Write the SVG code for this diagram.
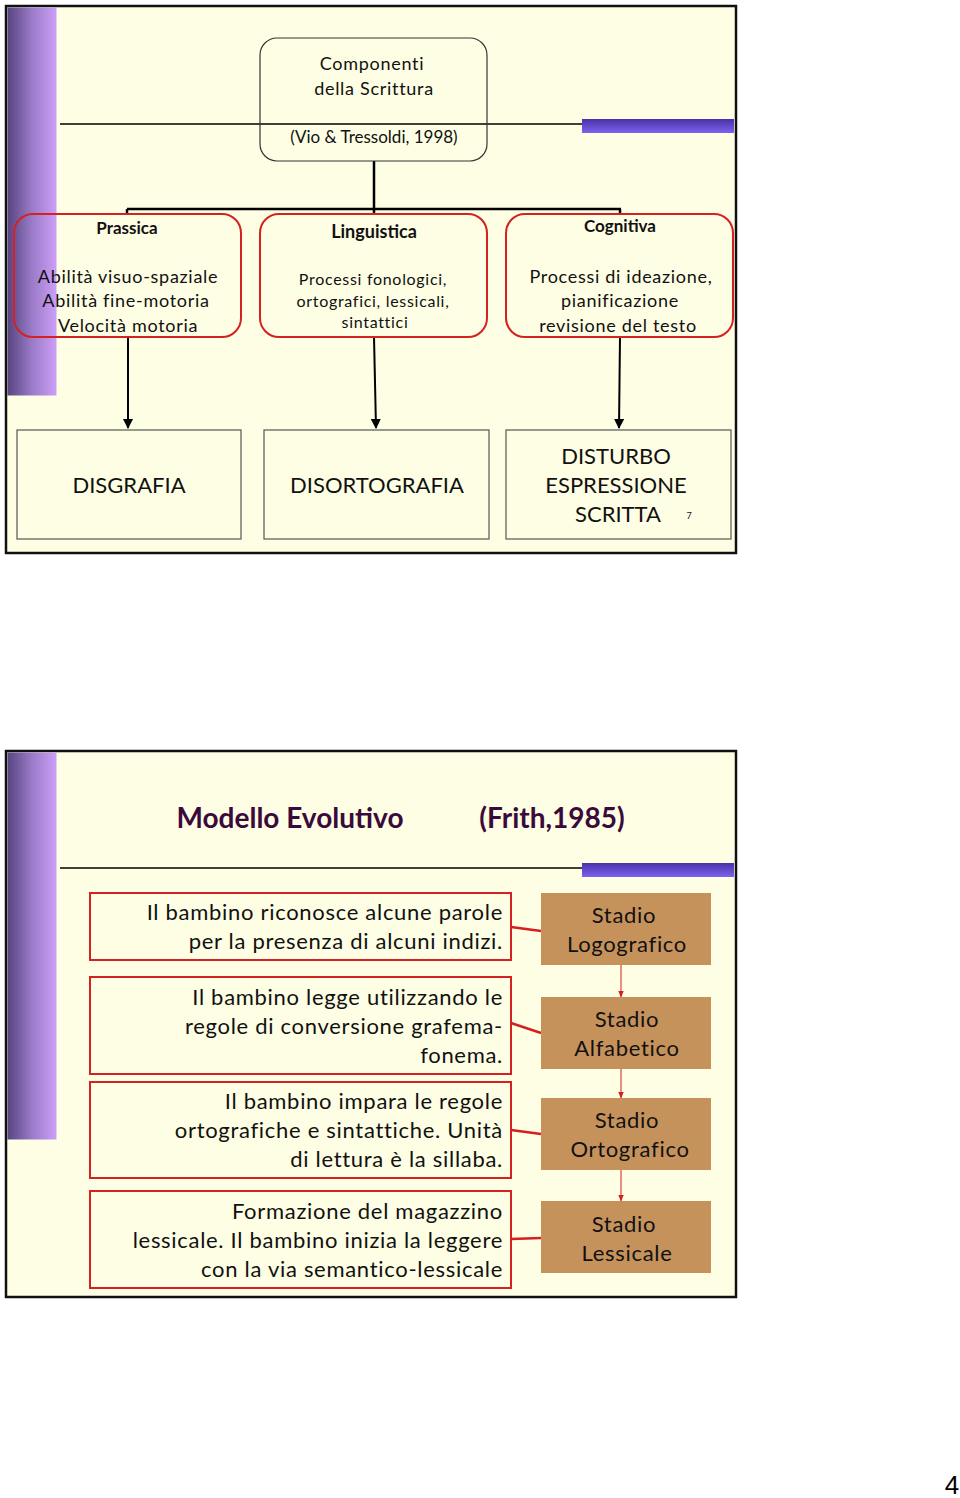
<svg xmlns="http://www.w3.org/2000/svg" width="960" height="1498" viewBox="0 0 960 1498">
<defs>
<linearGradient id="sideBar" x1="0" y1="0" x2="1" y2="0">
<stop offset="0" stop-color="#574580"/>
<stop offset="0.5" stop-color="#9a7bc8"/>
<stop offset="1" stop-color="#cc9ff8"/>
</linearGradient>
<linearGradient id="topBar" x1="0" y1="0" x2="0" y2="1">
<stop offset="0" stop-color="#4a30a8"/>
<stop offset="1" stop-color="#7e62ee"/>
</linearGradient>
<marker id="arrBlack" viewBox="0 0 10 10" refX="9" refY="5" markerWidth="5" markerHeight="5" orient="auto">
<path d="M0,0 L10,5 L0,10 z" fill="#000"/>
</marker>
<marker id="arrRed" viewBox="0 0 10 10" refX="9" refY="5" markerWidth="7" markerHeight="7" orient="auto">
<path d="M0,1 L10,5 L0,9 z" fill="#d42020"/>
</marker>
</defs>
<style>
.frame{fill:#fefee4;stroke:#111;stroke-width:2.5}
.t{font-family:Lato,"Noto Sans","DejaVu Sans",sans-serif;fill:#111}
.w{letter-spacing:0.7px}
.c{text-anchor:middle}
.r{text-anchor:end}
.b{font-weight:bold}
.redR{fill:none;stroke:#d42222;stroke-width:2}
.plain{fill:none;stroke:#555;stroke-width:1.2}
.brown{fill:#c6925c}
.conn{fill:none;stroke:#000;stroke-width:2.5}
.rconn{fill:none;stroke:#d42020;stroke-width:2.5}
.rarr{fill:none;stroke:#d42020;stroke-width:1}
</style>
<rect width="960" height="1498" fill="#fff"/>

<!-- Slide 1 -->
<g id="slide1">
<rect class="frame" x="6" y="6" width="730" height="547"/>
<rect x="7.5" y="7.5" width="49" height="388" fill="url(#sideBar)"/>
<line x1="60" y1="124" x2="582" y2="124" stroke="#000" stroke-width="1.5"/>
<rect x="582" y="119" width="152" height="14" fill="url(#topBar)"/>
</g>

<g id="connectors1">
<path class="conn" d="M374,161 V209 M127,209 H621 M127,209 V214 M374,209 V214 M620,209 V214"/>
<line x1="128" y1="337" x2="128" y2="428" stroke="#000" stroke-width="2" marker-end="url(#arrBlack)"/>
<line x1="374" y1="337" x2="376" y2="428" stroke="#000" stroke-width="2" marker-end="url(#arrBlack)"/>
<line x1="620" y1="337" x2="619" y2="428" stroke="#000" stroke-width="2" marker-end="url(#arrBlack)"/>
</g>

<g id="root">
<rect x="260" y="38" width="227" height="123" rx="17" fill="none" stroke="#333" stroke-width="1.2"/>
<text class="t c w" x="372" y="70" font-size="18">Componenti</text>
<text class="t c w" x="374" y="95" font-size="18">della Scrittura</text>
<text class="t c" x="374" y="143" font-size="17">(Vio &amp; Tressoldi, 1998)</text>
</g>

<g id="prassica">
<rect class="redR" x="14" y="214" width="227" height="123" rx="19"/>
<text class="t c b" x="127" y="234" font-size="17">Prassica</text>
<text class="t c w" x="128" y="283" font-size="18">Abilità visuo-spaziale</text>
<text class="t c w" x="126" y="307" font-size="18">Abilità fine-motoria</text>
<text class="t c w" x="128" y="332" font-size="18">Velocità motoria</text>
</g>

<g id="linguistica">
<rect class="redR" x="260" y="214" width="227" height="123" rx="19"/>
<text class="t c b" x="374" y="238" font-size="18">Linguistica</text>
<text class="t c w" x="373" y="285" font-size="16">Processi fonologici,</text>
<text class="t c w" x="373" y="307" font-size="16">ortografici, lessicali,</text>
<text class="t c w" x="375" y="328" font-size="16">sintattici</text>
</g>

<g id="cognitiva">
<rect class="redR" x="506" y="214" width="227" height="123" rx="19"/>
<text class="t c b" x="620" y="232" font-size="17">Cognitiva</text>
<text class="t c w" x="621" y="283" font-size="18">Processi di ideazione,</text>
<text class="t c w" x="620" y="307" font-size="18">pianificazione</text>
<text class="t c w" x="618" y="332" font-size="18">revisione del testo</text>
</g>

<g id="disgrafia">
<rect class="plain" x="17" y="430" width="224" height="109"/>
<text class="t c" x="129" y="493" font-size="22">DISGRAFIA</text>
</g>

<g id="disortografia">
<rect class="plain" x="264" y="430" width="225" height="109"/>
<text class="t c" x="377" y="493" font-size="22">DISORTOGRAFIA</text>
</g>

<g id="disturbo">
<rect class="plain" x="506" y="430" width="225" height="109"/>
<text class="t c" x="616" y="464" font-size="22">DISTURBO</text>
<text class="t c" x="616" y="493" font-size="22">ESPRESSIONE</text>
<text class="t c" x="618" y="522" font-size="22">SCRITTA</text>
<text class="t c" x="689" y="519" font-size="9">7</text>
</g>

<!-- Slide 2 -->
<g id="slide2">
<rect class="frame" x="6" y="751" width="730" height="546"/>
<rect x="7.5" y="752.5" width="49" height="387" fill="url(#sideBar)"/>
<line x1="60" y1="868" x2="582" y2="868" stroke="#000" stroke-width="1.5"/>
<rect x="582" y="863" width="152" height="14" fill="url(#topBar)"/>
<text class="t c b" x="290" y="828" font-size="28" style="fill:#3a0a3a">Modello Evolutivo</text>
<text class="t c b" x="552" y="828" font-size="28" style="fill:#3a0a3a">(Frith,1985)</text>
</g>

<g id="connectors2">
<line class="rconn" x1="511" y1="927" x2="541" y2="931"/>
<line class="rconn" x1="511" y1="1023" x2="541" y2="1033"/>
<line class="rconn" x1="511" y1="1130" x2="541" y2="1134"/>
<line class="rconn" x1="511" y1="1239" x2="541" y2="1238"/>
<line class="rarr" x1="621" y1="965" x2="621" y2="997" marker-end="url(#arrRed)"/>
<line class="rarr" x1="621" y1="1069" x2="621" y2="1098" marker-end="url(#arrRed)"/>
<line class="rarr" x1="621" y1="1170" x2="621" y2="1201" marker-end="url(#arrRed)"/>
</g>

<g id="desc1">
<rect class="redR" x="90" y="893" width="421" height="67"/>
<text class="t r w" x="503" y="920" font-size="22">Il bambino riconosce alcune parole</text>
<text class="t r w" x="503" y="949" font-size="22">per la presenza di alcuni indizi.</text>
</g>
<g id="desc2">
<rect class="redR" x="90" y="977" width="421" height="97"/>
<text class="t r w" x="503" y="1005" font-size="22">Il bambino legge utilizzando le</text>
<text class="t r w" x="503" y="1034" font-size="22">regole di conversione grafema-</text>
<text class="t r w" x="503" y="1063" font-size="22">fonema.</text>
</g>
<g id="desc3">
<rect class="redR" x="90" y="1082" width="421" height="96"/>
<text class="t r w" x="503" y="1109" font-size="22">Il bambino impara le regole</text>
<text class="t r w" x="503" y="1138" font-size="22">ortografiche e sintattiche. Unità</text>
<text class="t r w" x="503" y="1167" font-size="22">di lettura è la sillaba.</text>
</g>
<g id="desc4">
<rect class="redR" x="90" y="1191" width="421" height="97"/>
<text class="t r w" x="503" y="1219" font-size="22">Formazione del magazzino</text>
<text class="t r w" x="503" y="1248" font-size="22">lessicale. Il bambino inizia la leggere</text>
<text class="t r w" x="503" y="1277" font-size="22">con la via semantico-lessicale</text>
</g>

<g id="stadio1">
<rect class="brown" x="541" y="893" width="170" height="72"/>
<text class="t c w" x="624" y="923" font-size="22">Stadio</text>
<text class="t c w" x="627" y="952" font-size="22">Logografico</text>
</g>
<g id="stadio2">
<rect class="brown" x="541" y="997" width="170" height="72"/>
<text class="t c w" x="627" y="1027" font-size="22">Stadio</text>
<text class="t c w" x="627" y="1056" font-size="22">Alfabetico</text>
</g>
<g id="stadio3">
<rect class="brown" x="541" y="1098" width="170" height="72"/>
<text class="t c w" x="627" y="1128" font-size="22">Stadio</text>
<text class="t c w" x="630" y="1157" font-size="22">Ortografico</text>
</g>
<g id="stadio4">
<rect class="brown" x="541" y="1201" width="170" height="72"/>
<text class="t c w" x="624" y="1232" font-size="22">Stadio</text>
<text class="t c w" x="627" y="1261" font-size="22">Lessicale</text>
</g>

<text x="952" y="1494" font-family="'Liberation Sans',Arial,sans-serif" font-size="26" text-anchor="middle" fill="#000">4</text>
</svg>
